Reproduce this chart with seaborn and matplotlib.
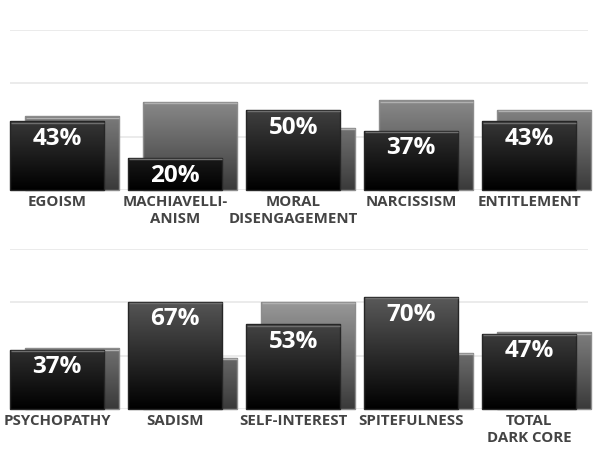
import numpy as np
import pandas as pd
import matplotlib
matplotlib.use("Agg")
import matplotlib.pyplot as plt
import seaborn as sns
from matplotlib.colors import LinearSegmentedColormap

TOP_TRAITS = ["EGOISM", "MACHIAVELLI-\nANISM", "MORAL\nDISENGAGEMENT", "NARCISSISM", "ENTITLEMENT"]
TOP_SCORE  = [43, 20, 50, 37, 43]
TOP_AVG    = [46, 55, 39, 56, 50]

BOT_TRAITS = ["PSYCHOPATHY", "SADISM", "SELF-INTEREST", "SPITEFULNESS", "TOTAL\nDARK CORE"]
BOT_SCORE  = [37, 67, 53, 70, 47]
BOT_AVG    = [38, 32, 67, 35, 48]

GRID = [0, 100 / 3, 200 / 3, 100]
SHIFT = 0.127          # back bar offset, in group units
PX = 118               # pixels per group

sns.set_theme(style="white")
plt.rcParams["font.family"] = ["Open Sans", "DejaVu Sans"]

dark_cmap = LinearSegmentedColormap.from_list("dk", ["#000000", "#808080"])
grey_cmap = LinearSegmentedColormap.from_list("gr", ["#3a3a3a", "#c8c8c8"])


def gradient_fill(ax, patches, cmap, z, edge, top_line=None):
    for p in patches:
        x0, w, h = p.get_x(), p.get_width(), p.get_height()
        p.set_facecolor("none")
        p.set_edgecolor(edge)
        p.set_linewidth(1.0)
        p.set_zorder(z + 0.2)
        p.set_clip_on(False)
        img = np.linspace(0, h, 200).reshape(-1, 1)
        im = ax.imshow(img, extent=(x0, x0 + w, 0, h), origin="lower", cmap=cmap,
                       vmin=0, vmax=100, aspect="auto", zorder=z,
                       interpolation="bilinear")
        im.set_clip_path(p)
        im.set_clip_on(True)
        if top_line:
            ax.plot([x0 + 0.006, x0 + w - 0.006], [h - 0.9, h - 0.9], color=top_line,
                    lw=1.0, zorder=z + 0.3, solid_capstyle="butt", clip_on=False)


def draw_row(ax, traits, score, avg):
    n = len(traits)
    df = pd.DataFrame({"pos": np.arange(n, dtype=float), "score": score, "avg": avg})
    back = df.assign(pos=df["pos"] + SHIFT)

    sns.barplot(data=back, x="pos", y="avg", native_scale=True, orient="x",
                color="#777777", errorbar=None, ax=ax)
    grey = list(ax.patches)
    sns.barplot(data=df, x="pos", y="score", native_scale=True, orient="x",
                color="#222222", errorbar=None, ax=ax)
    dark = [p for p in ax.patches if p not in grey]

    gradient_fill(ax, grey, grey_cmap, 2, "#8c8c8c", top_line="#b0b0b0")
    gradient_fill(ax, dark, dark_cmap, 4, "#262626", top_line="#6e6e6e")

    left, right = -0.4, -0.4 + 578 / PX
    ax.hlines(GRID, left, right, color="#e8e8e8", lw=1.2, zorder=0)

    for i, v in enumerate(score):
        ax.annotate(f"{v}%", (i, v), xytext=(0, -4), textcoords="offset points",
                    ha="center", va="top", color="white", fontsize=17.5,
                    fontweight="bold", zorder=6)

    ax.set_xlim(-0.4, -0.4 + 584 / PX)
    ax.set_ylim(0, 100)
    ax.set_xticks(range(n))
    ax.set_xticklabels(traits, fontsize=10.8, fontweight="bold", color="#444444",
                       linespacing=1.3)
    ax.tick_params(axis="x", length=0, pad=3.5)
    ax.set_yticks([])
    ax.set_xlabel("")
    ax.set_ylabel("")
    sns.despine(ax=ax, left=True, bottom=True)


fig = plt.figure(figsize=(5.97, 4.70), dpi=100)
ax_top = fig.add_axes([10 / 597, (470 - 190) / 470, 584 / 597, 160 / 470])
ax_bot = fig.add_axes([10 / 597, (470 - 409) / 470, 584 / 597, 160 / 470])

draw_row(ax_top, TOP_TRAITS, TOP_SCORE, TOP_AVG)
draw_row(ax_bot, BOT_TRAITS, BOT_SCORE, BOT_AVG)

fig.savefig("out.png", dpi=100, facecolor="white")
